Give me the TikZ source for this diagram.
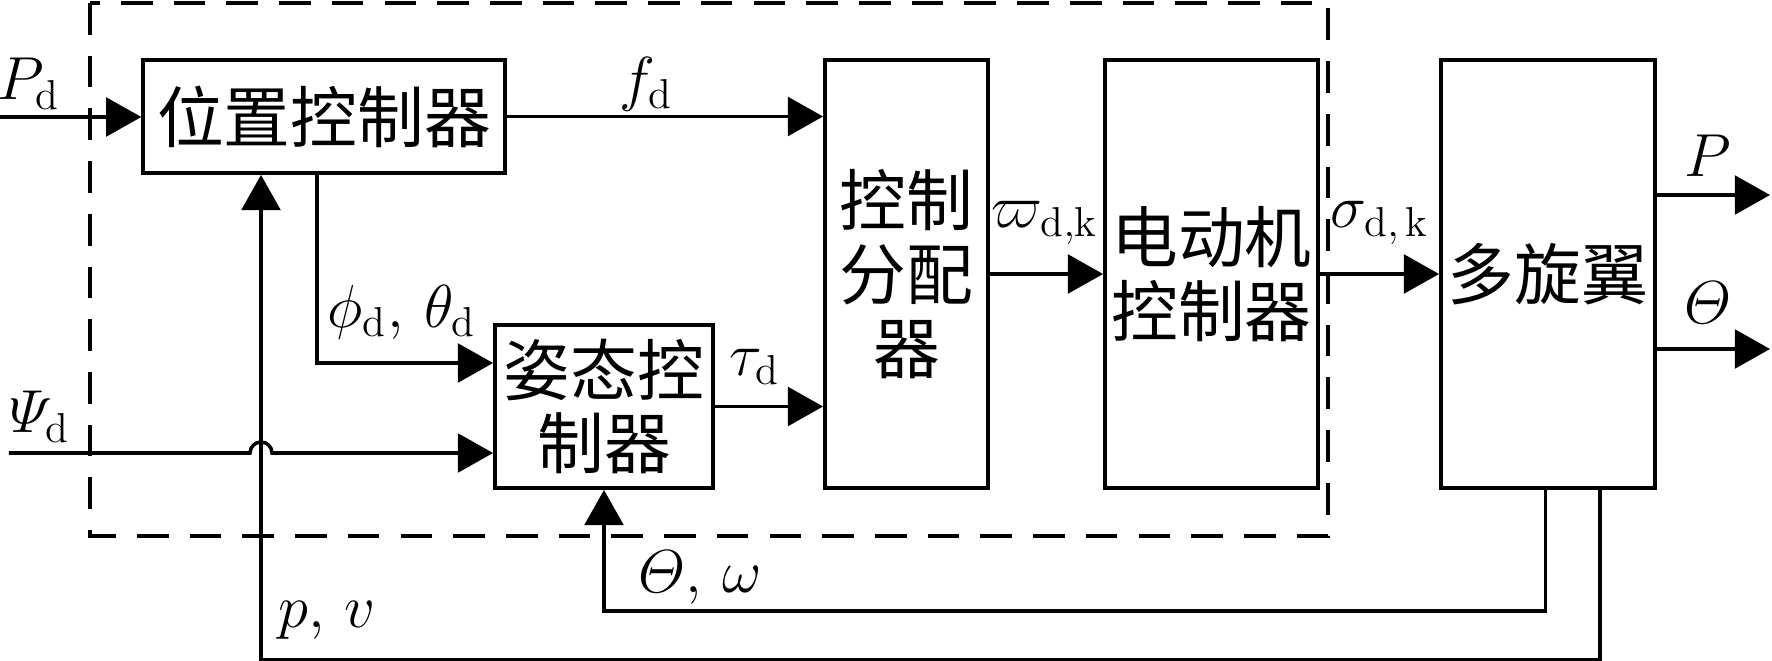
\documentclass[tikz,border=0pt]{standalone}
\usepackage{amsmath}
\usepackage{fontspec}
\newfontfamily\cjk{Noto Sans CJK SC}
\usepackage{tikz}
\usetikzlibrary{
  arrows.meta,
}

\begin{document}
\begin{tikzpicture}[line width=1pt]
	\tikzstyle{every node}=[font=\fontsize{17}{20}\selectfont]
	\tikzstyle{block}=[draw, line width=1.1pt, inner sep=0pt, align=center, font=\cjk\fontsize{19}{21}\selectfont]
	\tikzstyle{sig}=[-{Triangle[length=10pt,width=11pt]}]
	\useasboundingbox (0,0) rectangle (17.72,-6.61);
	% controller frame
	\draw [dash pattern=on 9pt off 6pt] (0.90,-0.03) rectangle (13.28,-5.36);
	% blocks
	\node (pos) [block, minimum width=3.615cm, minimum height=1.13cm] at (3.24,-1.165) {位置控制器};
	\node (att) [block, minimum width=2.18cm, minimum height=1.63cm] at (6.04,-4.065) {姿态控\\制器};
	\node (alloc) [block, minimum width=1.63cm, minimum height=4.28cm] at (9.065,-2.74) {控制\\分配\\器};
	\node (motor) [block, minimum width=2.13cm, minimum height=4.28cm] at (12.115,-2.74) {电动机\\控制器};
	\node (multi) [block, minimum width=2.14cm, minimum height=4.28cm] at (15.48,-2.74) {多旋翼};
	% free ends
	\coordinate (pdin) at (0,-1.17);
	\coordinate (psiin) at (0.09,-4.53);
	\coordinate (pout) at (17.70,-1.95);
	\coordinate (thout) at (17.70,-3.49);
	% forward path
	\draw [sig] (pdin) -- (pos.west |- pdin);
	\draw [sig] (pos.east) -- (pos.east -| alloc.west);
	\draw [sig] ([xshift=-0.07cm]pos.south) |- ([yshift=0.435cm]att.west);
	\draw [sig] (psiin) -- (2.50,-4.53) arc[start angle=180, end angle=0, radius=0.11] -- ([yshift=-0.465cm]att.west);
	\draw [sig] (att.east) -- (att.east -| alloc.west);
	\draw [sig] (alloc.east) -- (motor.west);
	\draw [sig] (motor.east) -- (multi.west);
	\draw [sig] (multi.east |- pout) -- (pout);
	\draw [sig] (multi.east |- thout) -- (thout);
	% feedback
	\draw [sig] ([xshift=-0.025cm]multi.south) -- ++(0,-1.21) -| (att.south);
	\draw [sig] ([xshift=0.52cm]multi.south) -- ++(0,-1.70) -| ([xshift=-0.63cm]pos.south);
	% labels
	\node (lpd) at (0.29,-0.84) {$P_{\mathrm{d}}$};
	\node (lfd) at (6.46,-0.84) {$f_{\mathrm{d}}$};
	\node (lang) at (4.02,-3.12) {$\phi_{\mathrm{d}},\,\theta_{\mathrm{d}}$};
	\node (ltau) at (7.55,-3.67) {$\tau_{\mathrm{d}}$};
	\node (lpsi) at (0.40,-4.17) {$\varPsi_{\mathrm{d}}$};
	\node (lomg) at (10.45,-2.23) {$\varpi_{\mathrm{d,k}}$};
	\node (lsig) at (13.80,-2.23) {$\sigma_{\mathrm{d,\,k}}$};
	\node (lp) at (17.08,-1.56) {$P$};
	\node (lth) at (17.08,-3.03) {$\varTheta$};
	\node (lthw) at (7.00,-5.78) {$\varTheta,\,\omega$};
	\node (lpv) at (3.27,-6.20) {$p,\,v$};
\end{tikzpicture}
\end{document}
